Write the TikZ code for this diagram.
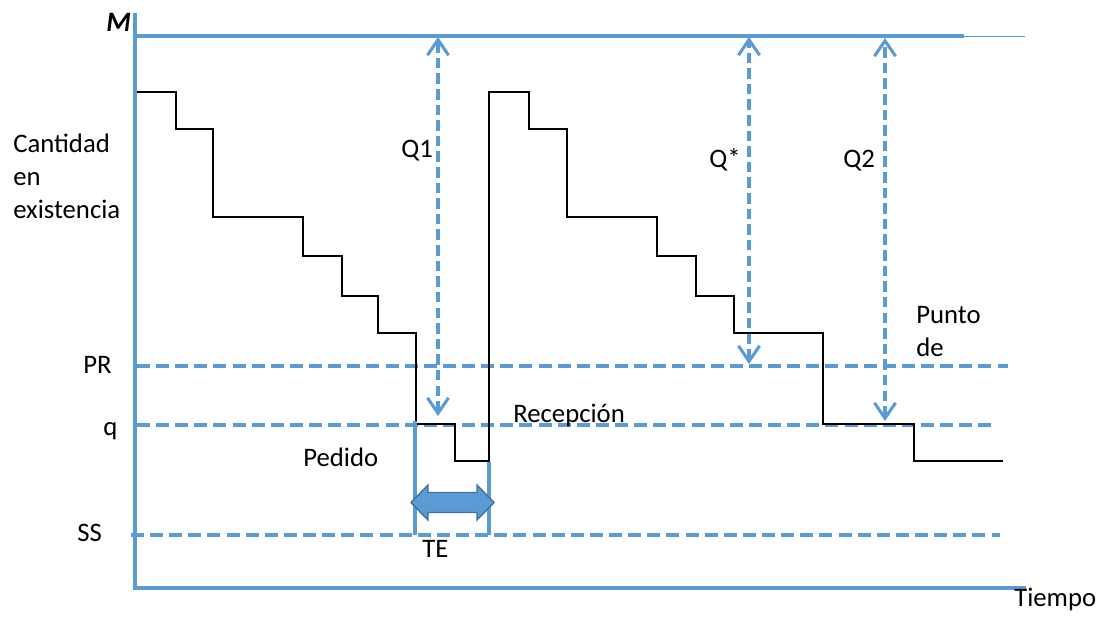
\documentclass[tikz,border=0pt]{standalone}
\usepackage{fontspec}
\setmainfont{Carlito}
\usetikzlibrary{arrows.meta}
\definecolor{azul}{HTML}{5B9BD5}
\definecolor{azulborde}{HTML}{41719C}
\tikzset{
    eje/.style={azul, line width=2.8pt},
    nivel/.style={azul, line width=2.4pt, dash pattern=on 9.2pt off 4.4pt},
    cota/.style={azul, line width=2.2pt, dash pattern=on 7.5pt off 3.6pt,
        >={Straight Barb[length=11pt,width=15pt]}, <->},
    etiq/.style={inner sep=0pt, anchor=base west, font=\fontsize{19}{22}\selectfont}
}
\begin{document}
\begin{tikzpicture}[x=0.025cm, y=-0.025cm]
    \useasboundingbox (0,0) rectangle (1100,619);

    % Axes
    \draw[eje] (135,13) -- (135,590);
    \draw[eje] (133,588) -- (1026,588);
    \draw[eje, line width=3pt] (135,36) -- (964,36);
    \draw[azul, line width=1.1pt] (964,36.5) -- (1025,36.5);
    \node[etiq, font=\fontsize{20}{22}\selectfont\bfseries\itshape] (M) at (106,31) {M};
    \node[etiq] (tiempo) at (1014,606) {Tiempo};
    \node[etiq] (cant) at (13,152) {Cantidad};
    \node[etiq] (en) at (13,185) {en};
    \node[etiq] (exist) at (13,218) {existencia};

    % Levels
    \draw[nivel] (137,366) -- (1008,366);
    \draw[nivel] (137,425) -- (997,425);
    \draw[nivel] (131,535) -- (1000,535);
    \node[etiq] (PR) at (83,373) {PR};
    \node[etiq] (q) at (103,435) {q};
    \node[etiq] (SS) at (77,541) {SS};

    % Inventory
    \draw[black, line width=0.75pt] (137,92) -- (176,92) -- (176,129) -- (213,129) -- (213,217)
        -- (303,217) -- (303,256) -- (342,256) -- (342,296) -- (378,296) -- (378,333)
        -- (416,333) -- (416,424) -- (455,424) -- (455,461) -- (489,461) -- (489,92)
        -- (529,92) -- (529,129) -- (567,129) -- (567,217) -- (657,217) -- (657,256)
        -- (696,256) -- (696,296) -- (734,296) -- (734,333) -- (823,333) -- (823,424)
        -- (914,424) -- (914,461) -- (1003,461);

    % Lead time
    \draw[azul, line width=2.2pt] (415,421) -- (415,535);
    \draw[azul, line width=2.2pt] (489,462) -- (489,535);
    \filldraw[fill=azul, draw=azulborde, line width=1pt] (411,502.5) -- (428,485) -- (428,492.5)
        -- (477,492.5) -- (477,485) -- (494,502.5) -- (477,520) -- (477,512.5)
        -- (428,512.5) -- (428,520) -- cycle;
    \node[etiq] (TE) at (422,557) {TE};
    \node[etiq] (pedido) at (303,466) {Pedido};
    \node[etiq] (recep) at (513,422) {Recepción};

    % Quantities
    \coordinate (q1top) at (438,37);
    \coordinate (q1bot) at (438,416);
    \coordinate (qstop) at (749,37);
    \coordinate (qsbot) at (749,364);
    \coordinate (q2top) at (885,38);
    \coordinate (q2bot) at (885,421);
    \draw[cota] (q1bot) -- (q1top);
    \draw[cota] (qsbot) -- (qstop);
    \draw[cota] (q2bot) -- (q2top);
    \node[etiq] (Q1) at (401,157) {Q1};
    \node[etiq] (Qs) at (709,167) {Q*};
    \node[etiq] (Q2) at (843,167) {Q2};
    \node[etiq] (punto) at (916,323) {Punto};
    \node[etiq] (de) at (916,356) {de};
\end{tikzpicture}
\end{document}
